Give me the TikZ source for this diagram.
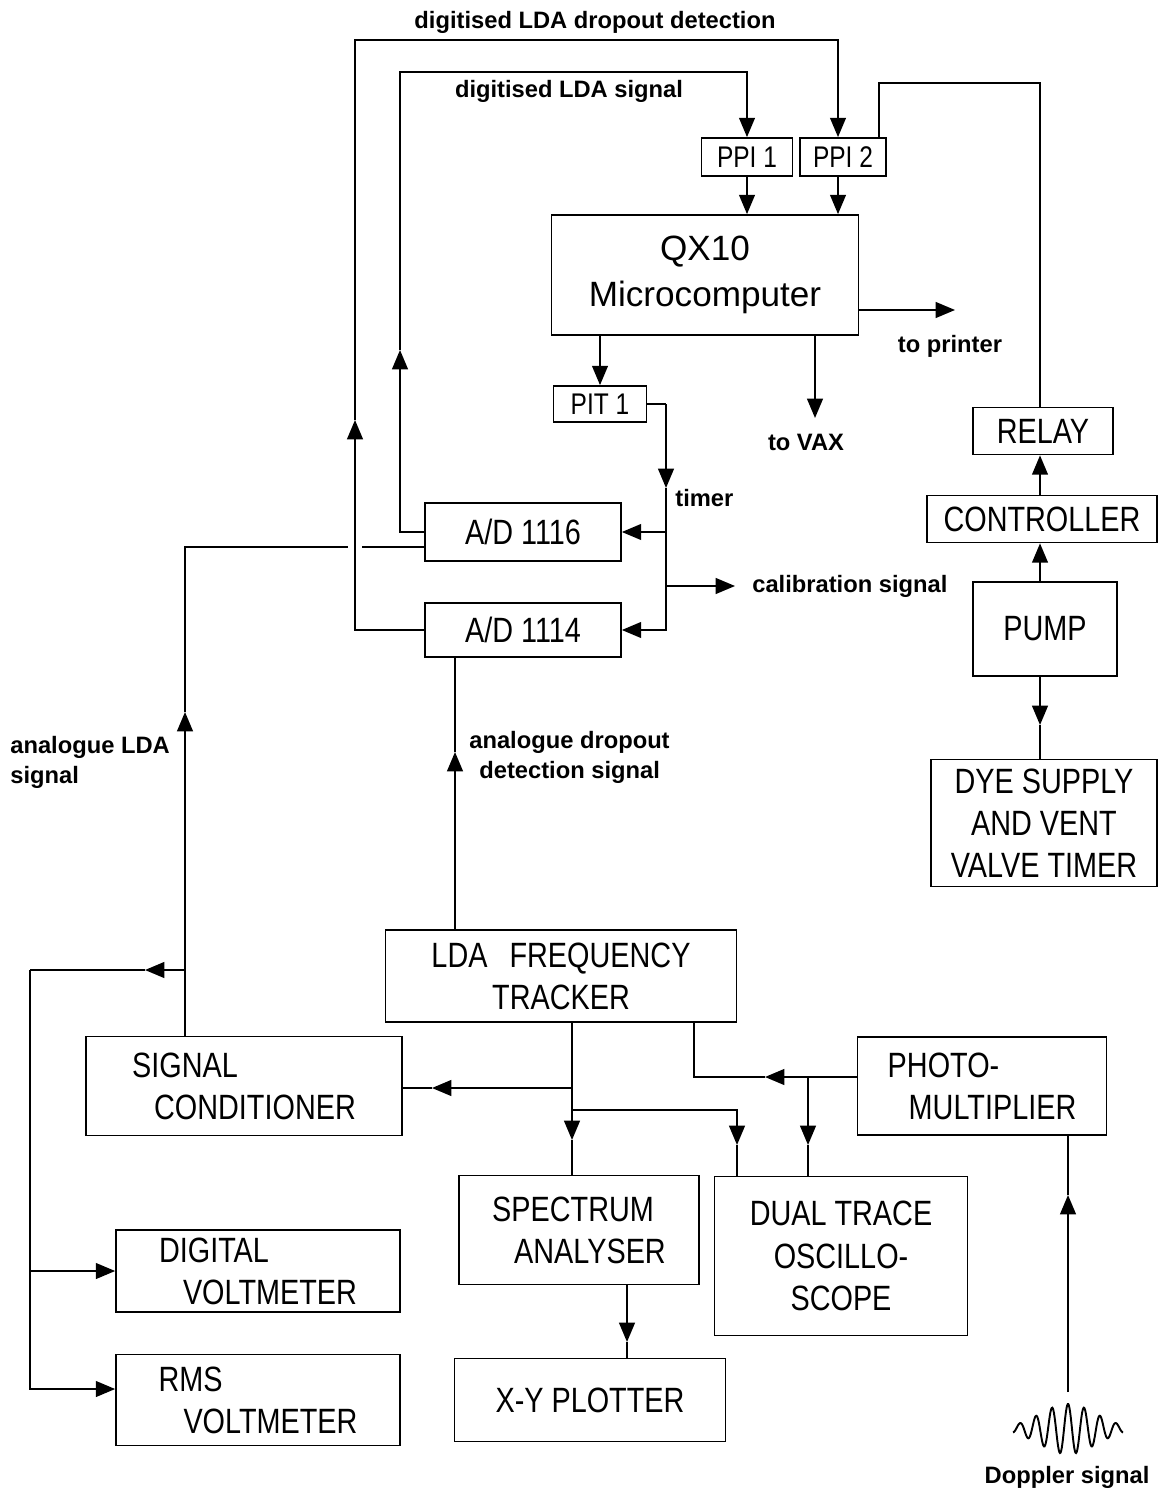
\documentclass[tikz,border=0pt]{standalone}
\usepackage{fontspec}
\setmainfont{Liberation Sans}
\newfontfamily\boxfont[FakeStretch=0.82]{Liberation Sans}
\usetikzlibrary{arrows.meta,positioning}

\tikzset{
  blk/.style={draw, line width=1pt, inner sep=0pt, align=left,
    font=\boxfont\fontsize{20}{24}\selectfont},
  sml/.style={blk, align=center, font=\boxfont\fontsize{17}{20}\selectfont},
  lbl/.style={inner sep=0pt, align=left, font=\bfseries\fontsize{13.5}{17}\selectfont},
  wire/.style={line width=1pt},
  tip/.style={wire, -{Triangle[width=9pt,length=11pt]}},
}

\begin{document}
\begin{tikzpicture}[x=0.02cm, y=-0.02cm]
    \useasboundingbox (0,0) rectangle (1165,1496);
    % Computer side
    \node[sml, minimum width=1.82cm, minimum height=0.76cm] (ppi1) at (747,157) {PPI 1};
    \node[sml, minimum width=1.72cm, minimum height=0.76cm] (ppi2) at (843,157) {PPI 2};
    \node[blk, align=center, font=\fontsize{20}{26}\selectfont,
      minimum width=6.14cm, minimum height=2.4cm] (qx) at (705,275) {QX10\\Microcomputer};
    \node[sml, minimum width=1.86cm, minimum height=0.72cm] (pit) at (600,404) {PIT 1};
    \node[blk, align=center, minimum width=3.92cm, minimum height=1.16cm] (ad16) at (523,532) {A/D 1116};
    \node[blk, align=center, minimum width=3.92cm, minimum height=1.08cm] (ad14) at (523,630) {A/D 1114};
    % Dye injection side
    \node[blk, align=center, minimum width=2.8cm, minimum height=0.94cm] (relay) at (1043,431) {RELAY};
    \node[blk, align=center, minimum width=4.6cm, minimum height=0.94cm] (ctrl) at (1042,519) {CONTROLLER};
    \node[blk, align=center, minimum width=2.88cm, minimum height=1.88cm] (pump) at (1045,629) {PUMP};
    \node[blk, align=center, minimum width=4.52cm, minimum height=2.54cm] (dye) at (1044,823)
      {DYE SUPPLY\\AND VENT\\VALVE TIMER};
    % LDA electronics
    \node[blk, align=center, minimum width=7.02cm, minimum height=1.84cm] (tracker) at (561,976)
      {LDA\hspace{0.4em} FREQUENCY\\TRACKER};
    \node[blk, minimum width=6.32cm, minimum height=1.98cm] (sigc) at (244,1086)
      {SIGNAL\\\hspace*{0.44cm}CONDITIONER};
    \node[blk, minimum width=4.98cm, minimum height=1.96cm] (pm) at (982,1086)
      {PHOTO-\\\hspace*{0.42cm}MULTIPLIER};
    \node[blk, minimum width=4.8cm, minimum height=2.18cm] (spec) at (579,1230)
      {SPECTRUM\\\hspace*{0.44cm}ANALYSER};
    \node[blk, align=center, minimum width=5.06cm, minimum height=3.18cm] (dual) at (841,1256)
      {DUAL TRACE\\OSCILLO-\\SCOPE};
    \node[blk, align=center, minimum width=5.42cm, minimum height=1.66cm] (xy) at (590,1400) {X-Y PLOTTER};
    \node[blk, minimum width=5.68cm, minimum height=1.64cm] (dvm) at (258,1271)
      {DIGITAL\\\hspace*{0.48cm}VOLTMETER};
    \node[blk, minimum width=5.68cm, minimum height=1.82cm] (rms) at (258,1400)
      {RMS\\\hspace*{0.5cm}VOLTMETER};

    % Labels
    \node[lbl] (tdd) at (595,22) {digitised LDA dropout detection};
    \node[lbl] (tds) at (569,91) {digitised LDA signal};
    \node[lbl] (tpr) at (950,346) {to printer};
    \node[lbl] (tvax) at (806,442) {to VAX};
    \node[lbl, anchor=west] (ttim) at (675,498) {timer};
    \node[lbl, anchor=west] (tcal) at (752,586) {calibration signal};
    \node[lbl, anchor=west] (tals) at (10,762) {analogue LDA\\signal};
    \node[lbl, anchor=west] (tads) at (469,757) {analogue dropout\\\hspace*{0.2cm}detection signal};
    \node[lbl] (tdop) at (1067,1477) {Doppler signal};

    % Digitised loops to the PPIs
    \coordinate (ddup) at (355,420);
    \coordinate (ddtop) at (838,40);
    \draw[tip] (ad14.west) -| (ddup);
    \draw[tip] (ddup) |- (ddtop) -- (ddtop |- ppi2.north);
    \coordinate (dsup) at (400,350);
    \coordinate (dstop) at (747,72);
    \draw[tip] (ad16.west) -| (dsup);
    \draw[tip] (dsup) |- (dstop) -- (ppi1.north);
    \draw[tip] (ppi1.south) -- (ppi1.south |- qx.north);
    \draw[tip] (ddtop |- ppi2.south) -- (ddtop |- qx.north);
    % PPI 2 to relay
    \coordinate (pc) at (1040,0);
    \coordinate (rltop) at (879,83);
    \draw[line width=0.6pt] (rltop |- ppi2.north) -- (rltop) -| (pc |- relay.north);

    % Computer outputs
    \coordinate (prn) at (955,310);
    \coordinate (vax) at (815,418);
    \draw[tip] (qx.east |- prn) -- (prn);
    \draw[tip] (vax |- qx.south) -- (vax);
    \draw[tip] (pit.north |- qx.south) -- (pit.north);

    % Timer bus
    \coordinate (tbus) at (666,404);
    \coordinate (tarr) at (666,488);
    \coordinate (cal) at (735,586);
    \draw[wire] (pit.east) -- (tbus);
    \draw[tip] (tbus) -- (tarr);
    \draw[tip] (tarr) |- (ad14.east);
    \draw[tip] (tarr |- ad16.east) -- (ad16.east);
    \draw[tip] (tarr |- cal) -- (cal);

    % Analogue LDA signal
    \coordinate (alup) at (185,712);
    \coordinate (algap) at (348,547);
    \draw[tip] (sigc.north -| alup) -- (alup);
    \draw[wire] (alup) |- (algap);
    \draw[wire] ([xshift=0.28cm]algap) -- (algap -| ad16.west);
    % Meters
    \coordinate (meters) at (185,970);
    \coordinate (marr) at (145,970);
    \coordinate (mbus) at (30,970);
    \draw[tip] (meters) -- (marr);
    \draw[wire] (marr) -- (mbus);
    \draw[tip] (mbus) |- ([yshift=0.22cm]rms.west);
    \draw[tip] (mbus |- dvm.west) -- (dvm.west);

    % Analogue dropout detection
    \coordinate (adup) at (455,752);
    \draw[tip] (adup |- tracker.north) -- (adup);
    \draw[wire] (adup) -- (adup |- ad14.south);

    % Tracker outputs
    \coordinate (tk) at (572,1088);
    \coordinate (tkarr) at (572,1140);
    \coordinate (sgarr) at (432,1088);
    \coordinate (sc) at (737,1110);
    \coordinate (scarr) at (737,1145);
    \draw[wire] (tk |- tracker.south) -- (tk);
    \draw[tip] (tk) -- (sgarr);
    \draw[wire] (sgarr) -- (sigc.east |- tk);
    \draw[tip] (tk) -- (tkarr);
    \draw[wire] (tkarr) -- (tkarr |- spec.north);
    \draw[tip] (tk |- sc) -| (scarr);
    \draw[wire] (scarr) -- (scarr |- dual.north);

    % Photomultiplier
    \coordinate (pmarr) at (765,1077);
    \coordinate (pmj) at (808,1077);
    \coordinate (pmarr2) at (808,1145);
    \coordinate (tkr) at (694,1077);
    \draw[tip] (pm.west |- pmarr) -- (pmarr);
    \draw[wire] (pmarr) -- (tkr) -- (tkr |- tracker.south);
    \draw[tip] (pmj) -- (pmarr2);
    \draw[wire] (pmarr2) -- (pmarr2 |- dual.north);

    % Doppler burst
    \coordinate (dop) at (1068,1392);
    \coordinate (doparr) at (1068,1195);
    \draw[line width=1.1pt] plot[domain=-55:55, samples=200, smooth]
      ({1068+\x}, {1429 - 25*exp(0-(\x/40)*(\x/40))*cos(\x*22.5)});
    \draw[tip] (dop) -- (doparr);
    \draw[wire] (doparr) -- (doparr |- pm.south);

    % Spectrum analyser to plotter
    \coordinate (xyarr) at (627,1342);
    \draw[tip] (xyarr |- spec.south) -- (xyarr);
    \draw[wire] (xyarr) -- (xyarr |- xy.north);

    % Pump chain
    \coordinate (dyarr) at (1040,725);
    \draw[tip] (pc |- pump.north) -- (pc |- ctrl.south);
    \draw[tip] (pc |- ctrl.north) -- (pc |- relay.south);
    \draw[tip] (pc |- pump.south) -- (dyarr);
    \draw[wire] (dyarr) -- (dyarr |- dye.north);
  \end{tikzpicture}
\end{document}
